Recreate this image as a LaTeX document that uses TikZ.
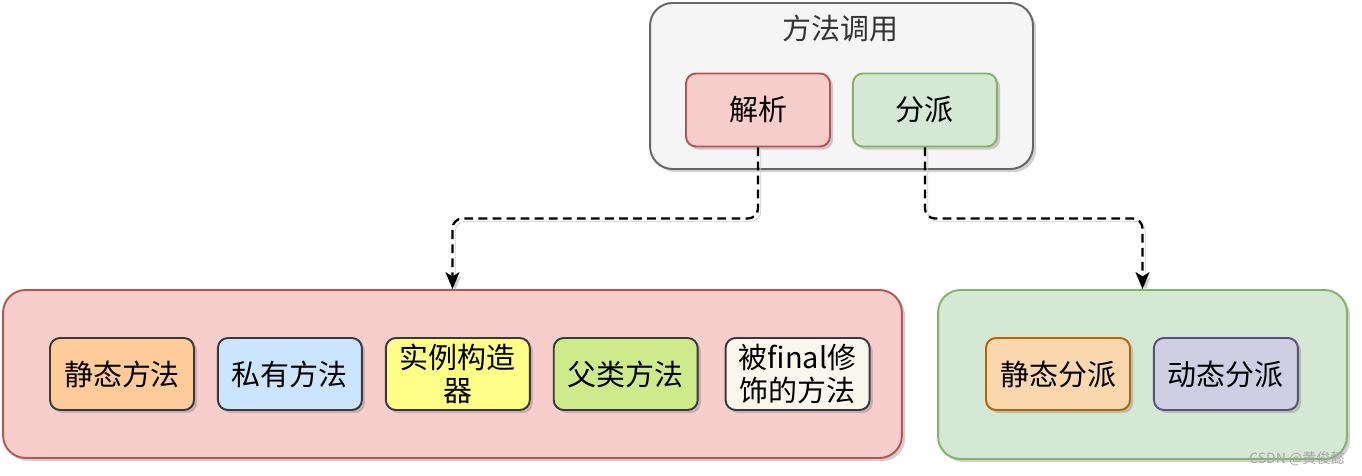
\documentclass[tikz,border=0pt]{standalone}
\usepackage{fontspec}
\setmainfont{Noto Sans CJK SC}
\usetikzlibrary{positioning,arrows.meta,shadows}

\definecolor{greyfill}{HTML}{F5F5F5}
\definecolor{greyline}{HTML}{666666}
\definecolor{redfill}{HTML}{F8CECC}
\definecolor{redline}{HTML}{B85450}
\definecolor{greenfill}{HTML}{D5E8D4}
\definecolor{greenline}{HTML}{82B366}
\definecolor{itemline}{HTML}{36393D}
\definecolor{orangefill}{HTML}{FFCC99}
\definecolor{bluefill}{HTML}{CCE5FF}
\definecolor{yellowfill}{HTML}{FFFF88}
\definecolor{limefill}{HTML}{CDEB8B}
\definecolor{creamfill}{HTML}{F9F7ED}
\definecolor{peachfill}{HTML}{FAD7AC}
\definecolor{peachline}{HTML}{B46504}
\definecolor{purplefill}{HTML}{D0CEE2}
\definecolor{purpleline}{HTML}{56517E}

\begin{document}
\begin{tikzpicture}[%
    x=0.02cm, y=-0.02cm,        % Coordinates in pixels, counted from the top
    >={Stealth[length=3.4mm,width=2.8mm,inset=0.9mm]},
    node distance=4.4mm,        % Gap between the small boxes
    ]
% -------------------------------------------------
% Box styles
\tikzset{
  base/.style={draw, line width=1.1pt, align=center,
    font=\fontsize{16.5}{19}\selectfont,
    drop shadow={shadow xshift=1.8pt, shadow yshift=-1.8pt, opacity=0.3, fill=black!60}},
  group/.style={base, rounded corners=4.5mm},
  item/.style={base, rounded corners=2mm, draw=itemline, inner sep=0pt,
    minimum width=2.88cm, minimum height=1.44cm},
  link/.style={->, draw, line width=1.3pt, dash pattern=on 5pt off 3pt,
    rounded corners=2mm,
    preaction={draw=black!20, transform canvas={shift={(1.6pt,-1.6pt)}}}},
}
\useasboundingbox (0,0) rectangle (1362,476);
% -------------------------------------------------
% Top: method call
\node [group, fill=greyfill, draw=greyline, minimum width=7.66cm,
  minimum height=3.32cm] (call) at (841.5,86) {};
\node [font=\fontsize{16.5}{19}\selectfont, text=black!80] (title) at (840,28) {方法调用};
\node [item, fill=redfill, draw=redline, minimum height=1.46cm] (resolve) at (758,110) {解析};
\node [item, fill=greenfill, draw=greenline, minimum height=1.46cm,
  right=4.2mm of resolve] (dispatch) {分派};

% Bottom left: resolution targets
\node [group, fill=redfill, draw=redline, minimum width=17.98cm,
  minimum height=3.36cm] (methods) at (452.5,374) {};
\node [item, fill=orangefill] (static) at (122,374) {静态方法};
\node [item, fill=bluefill, right=of static] (private) {私有方法};
\node [item, fill=yellowfill, right=of private] (ctor) {实例构造\\器};
\node [item, fill=limefill, right=of ctor] (parent) {父类方法};
\node [item, fill=creamfill, right=5.2mm of parent] (final) {被final修\\饰的方法};

% Bottom right: dispatch kinds
\node [group, fill=greenfill, draw=greenline, minimum width=8.18cm,
  minimum height=3.38cm] (kinds) at (1142.5,374.5) {};
\node [item, fill=peachfill, draw=peachline] (sdisp) at (1058,374) {静态分派};
\node [item, fill=purplefill, draw=purpleline, right=of sdisp] (ddisp) {动态分派};

\node [font=\fontsize{8}{9}\selectfont, text=black!35, anchor=south east,
  inner sep=0pt] (mark) at (1345,466) {CSDN @黄俊懿};

% -------------------------------------------------
% Connectors
\draw[link] (resolve.south) -- ++(0,71) -| (methods.north);
\draw[link] (dispatch.south) -- ++(0,71) -| (kinds.north);
% -------------------------------------------------
\end{tikzpicture}
\end{document}
